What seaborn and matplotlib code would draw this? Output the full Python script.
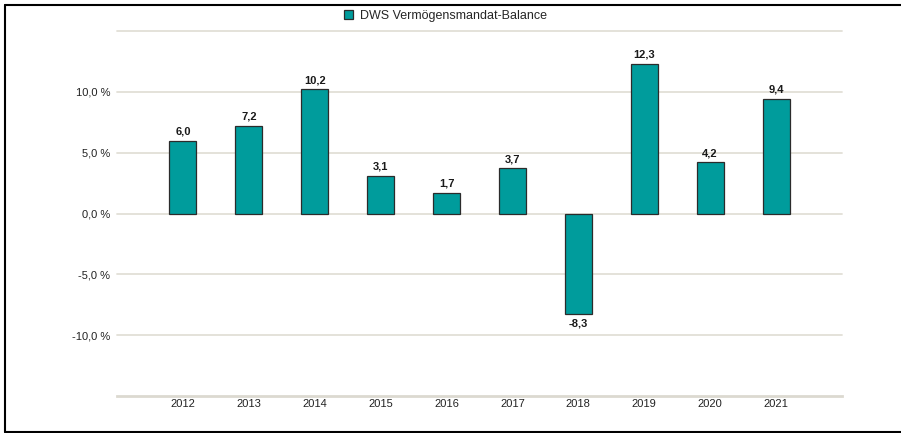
import numpy as np
import pandas as pd
import seaborn as sns
import matplotlib.pyplot as plt
from matplotlib.patches import Patch
from matplotlib.lines import Line2D
from matplotlib.ticker import FixedLocator

years = ['2012', '2013', '2014', '2015', '2016', '2017', '2018', '2019', '2020', '2021']
values = [6.0, 7.2, 10.2, 3.1, 1.7, 3.7, -8.3, 12.3, 4.2, 9.4]
series_name = 'DWS Vermögensmandat-Balance'
y_ticks = [-10, -5, 0, 5, 10]

teal = '#009c9c'
grid_col = '#e2dfd7'

sns.set_style('white')
plt.rcParams['font.family'] = ['Liberation Sans', 'DejaVu Sans']

df = pd.DataFrame({'Jahr': years, 'Wert': values})

fig = plt.figure(figsize=(9.01, 4.33), dpi=100)
ax = fig.add_axes([117 / 901, 37 / 433, 725 / 901, 365 / 433])

# grid lines first so bars sit on top
for g in [-10, -5, 0, 5, 10, 15]:
    ax.axhline(g, color=grid_col, lw=1.3, zorder=0, clip_on=False)

sns.barplot(data=df, x='Jahr', y='Wert', color=teal, width=0.41,
            edgecolor='#2b2b2b', linewidth=0.9, saturation=1, ax=ax, zorder=2)

# value labels, german decimal comma
for i, v in enumerate(values):
    txt = f'{v:.1f}'.replace('.', ',')
    if v >= 0:
        ax.annotate(txt, (i, v), xytext=(0, 3), textcoords='offset points',
                    ha='center', va='bottom', fontsize=8, fontweight='bold', color='#1a1a1a')
    else:
        ax.annotate(txt, (i, v), xytext=(0, -3), textcoords='offset points',
                    ha='center', va='top', fontsize=8, fontweight='bold', color='#1a1a1a')

ax.set_xlim(-1, 10)
ax.set_ylim(-15, 15)
ax.set_yticks(y_ticks)
ax.set_yticklabels([f'{t:.1f}'.replace('.', ',') + ' %' for t in y_ticks], fontsize=8, color='#222222')
ax.tick_params(axis='y', length=0, pad=5)
ax.tick_params(axis='x', which='major', length=0, pad=2, labelsize=8, labelcolor='#222222')

# small ticks on the x axis at the thirds between categories
minor = [k / 3 for k in range(-3, 31) if k % 3 != 0 or k in (-3, 30)]
ax.xaxis.set_minor_locator(FixedLocator(minor))
ax.tick_params(axis='x', which='minor', length=4.5, width=1.2, color='#d8d5cc', direction='out')

ax.set_xlabel('')
ax.set_ylabel('')
for s in ['top', 'right', 'left']:
    ax.spines[s].set_visible(False)
ax.spines['bottom'].set_color('#dcd9d0')
ax.spines['bottom'].set_linewidth(2)

fig.legend(handles=[Patch(facecolor=teal, edgecolor='#2b2b2b', linewidth=0.9, label=series_name)],
           loc='center left', bbox_to_anchor=(344 / 901, 1 - 16 / 433), frameon=False,
           fontsize=9, handlelength=0.75, handleheight=0.75, handletextpad=0.5,
           borderpad=0, borderaxespad=0)

# frame round the picture (no right edge visible)
bx0, by0, by1 = 4.5 / 901, 1.5 / 433, 1 - 4.5 / 433
fig.add_artist(Line2D([bx0, 1.0], [by1, by1], transform=fig.transFigure, color='black', lw=1.5))
fig.add_artist(Line2D([bx0, bx0], [by0, by1], transform=fig.transFigure, color='black', lw=1.5))
fig.add_artist(Line2D([bx0, 1.0], [by0, by0], transform=fig.transFigure, color='black', lw=1.5))

fig.savefig('out.png', dpi=100)
